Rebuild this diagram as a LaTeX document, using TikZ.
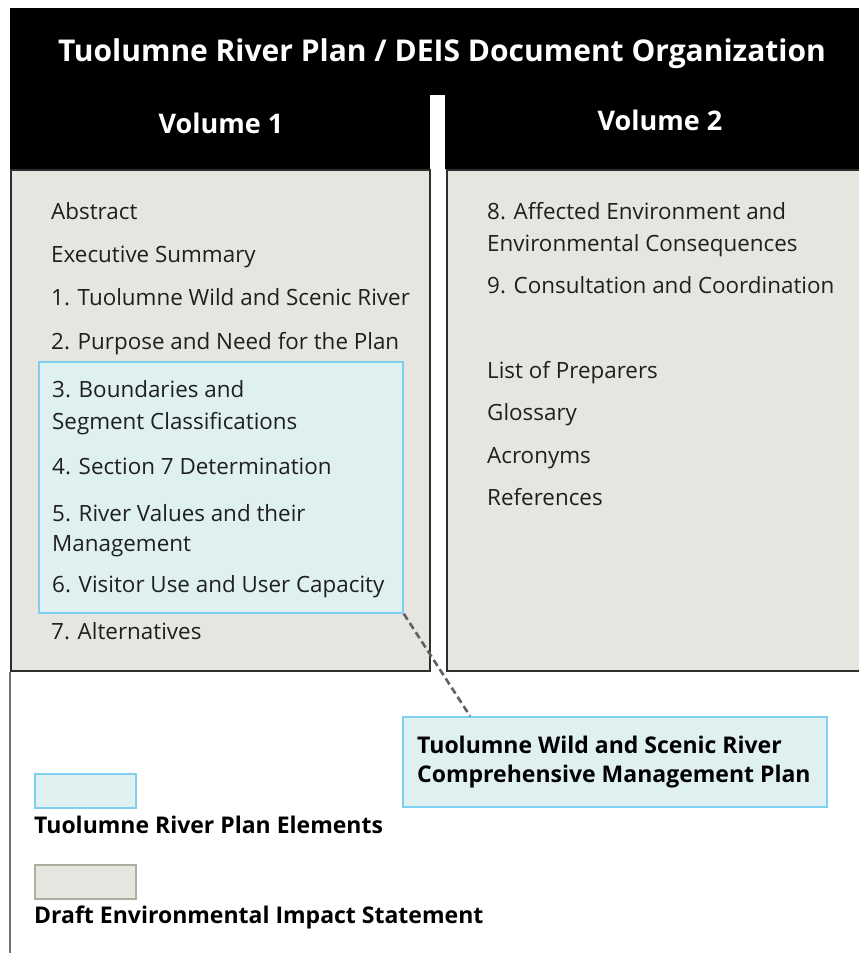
\documentclass[tikz,border=0pt]{standalone}
\usepackage{fontspec}
\setmainfont{Open Sans}
\usetikzlibrary{positioning, calc}

\definecolor{deisfill}{HTML}{E6E5DF}
\definecolor{deisline}{HTML}{2E2E2E}
\definecolor{planfill}{HTML}{DFF0F1}
\definecolor{planline}{HTML}{7FCFF0}
\definecolor{swatchline}{HTML}{AEAE9C}

\begin{document}
\begin{tikzpicture}[x=1pt, y=-1pt, line join=miter]
	\tikzset{
		header/.style={fill=black, draw=none},
		volbox/.style={draw=deisline, fill=deisfill, line width=2pt, anchor=north west, inner sep=0pt},
		planbox/.style={draw=planline, fill=planfill, line width=1.8pt, anchor=north west, inner sep=0pt},
		swatch/.style={fill=deisfill, draw=swatchline, line width=1.8pt, anchor=north west, inner sep=0pt,
			minimum width=101pt, minimum height=34pt},
		headtext/.style={text=white, font=\fontsize{30}{36}\selectfont\bfseries, anchor=base, inner sep=0pt},
		voltext/.style={text=white, font=\fontsize{27}{32}\selectfont\bfseries, anchor=base, inner sep=0pt},
		item/.style={anchor=base west, inner sep=0pt, align=left, text=black!88,
			font=\fontsize{22.4}{31}\selectfont},
		legendtext/.style={anchor=base west, inner sep=0pt, text=black,
			font=\fontsize{23}{29}\selectfont\bfseries},
		link/.style={dash pattern=on 7pt off 4pt, draw=black!62, line width=2.6pt}
	}
	\useasboundingbox (0,0) rectangle (859,953);
	\clip (0,0) rectangle (859,953);
	
	% header band with the gap between the volumes
	\fill[header] (10,8) rectangle (861,169);
	\fill[white] (430,95) rectangle (445,169);
	\node[headtext] (title) at (442,61) {Tuolumne River Plan / DEIS Document Organization};
	\node[voltext] (vol1) at (221,133) {Volume 1};
	\node[voltext] (vol2) at (660,130) {Volume 2};
	
	% volume boxes
	\node[volbox, minimum width=419pt, minimum height=501pt] (volA) at (10,169) {};
	\node[volbox, minimum width=420pt, minimum height=501pt] (volB) at (446,169) {};
	\draw[draw=black!55, line width=1.8pt] (volA.south west) -- ++(0,284);
	
	% river plan elements inside volume 1
	\node[planbox, minimum width=364pt, minimum height=251pt] (cmp) at (38,361) {};
	
	% multi-line items sit on the baseline of their last line
	\node[item] (abs)   at (51,219) {Abstract};
	\node[item] (exec)  at (51,262) {Executive Summary};
	\node[item] (ch1)   at (51,305) {1. Tuolumne Wild and Scenic River};
	\node[item] (ch2)   at (51,349) {2. Purpose and Need for the Plan};
	\node[item, font=\fontsize{22.4}{32}\selectfont] (ch3) at (52,429) {3. Boundaries and\\Segment Classifications};
	\node[item] (ch4)   at (52,474) {4. Section 7 Determination};
	\node[item, font=\fontsize{22.4}{30}\selectfont] (ch5) at (52,551) {5. River Values and their\\Management};
	\node[item] (ch6)   at (52,592) {6. Visitor Use and User Capacity};
	\node[item] (ch7)   at (51,639) {7. Alternatives};
	
	\node[item, font=\fontsize{22.4}{32}\selectfont] (ch8) at (487,251) {8. Affected Environment and\\Environmental Consequences};
	\node[item] (ch9)   at (487,293) {9. Consultation and Coordination};
	\node[item] (prep)  at (487,378) {List of Preparers};
	\node[item] (gloss) at (487,420) {Glossary};
	\node[item] (acro)  at (487,463) {Acronyms};
	\node[item] (refs)  at (487,505) {References};
	
	% callout for the management plan
	\node[planbox, minimum width=424pt, minimum height=90pt] (plan) at (402,716) {};
	\node[legendtext, align=left] (plantext) at (417,782)
		{Tuolumne Wild and Scenic River\\Comprehensive Management Plan};
	\draw[link] (cmp.south east) -- ($(plan.north west)+(68,0)$);
	
	% legend
	\node[swatch, fill=planfill, draw=planline] (keyA) at (34,773) {};
	\node[legendtext] (keyAtext) at (34,833) {Tuolumne River Plan Elements};
	\node[swatch] (keyB) at (34,864) {};
	\node[legendtext] (keyBtext) at (34,923) {Draft Environmental Impact Statement};
\end{tikzpicture}
\end{document}
